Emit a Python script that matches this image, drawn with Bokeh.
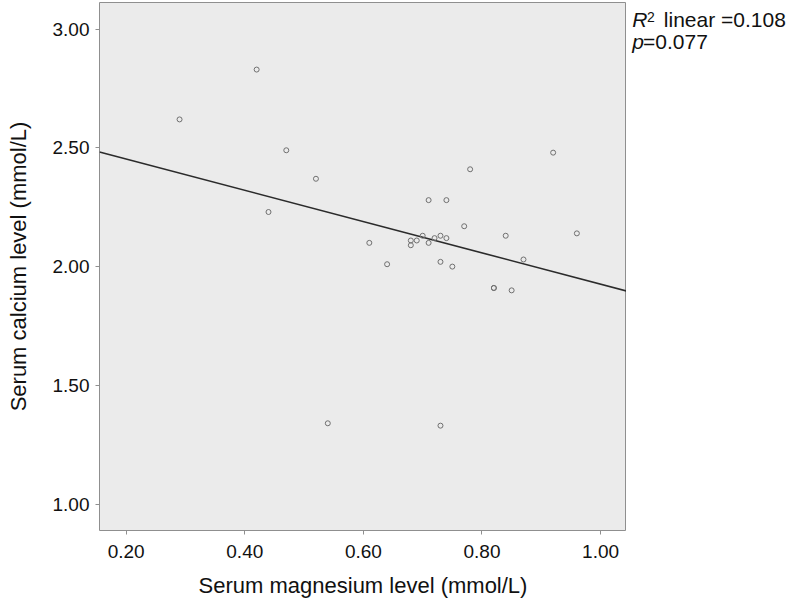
import numpy as np
from bokeh.plotting import figure
from bokeh.layouts import row
from bokeh.models import Range1d, FixedTicker, PrintfTickFormatter
from bokeh.core.properties import value
from bokeh.embed import file_html
from bokeh.resources import INLINE

# Data
magnesium = [0.29, 0.42, 0.47, 0.52, 0.44, 0.61, 0.64, 0.92, 0.78, 0.71,
             0.74, 0.77, 0.70, 0.68, 0.69, 0.68, 0.71, 0.72, 0.73, 0.74,
             0.84, 0.96, 0.73, 0.75, 0.87, 0.82, 0.82, 0.85, 0.54, 0.73]
calcium = [2.62, 2.83, 2.49, 2.37, 2.23, 2.10, 2.01, 2.48, 2.41, 2.28,
           2.28, 2.17, 2.13, 2.11, 2.11, 2.09, 2.10, 2.12, 2.13, 2.12,
           2.13, 2.14, 2.02, 2.00, 2.03, 1.91, 1.91, 1.90, 1.34, 1.33]
fit_intercept = 2.585
fit_slope = -0.659
x_ticks = [0.20, 0.40, 0.60, 0.80, 1.00]
y_ticks = [1.00, 1.50, 2.00, 2.50, 3.00]
r2_text = "0.108"
p_text = "0.077"

FONT = "Liberation Sans"
TXT = "#111111"
x_start, x_end = 0.155, 1.0437
y_start, y_end = 0.8884, 3.1125

p = figure(frame_width=527, frame_height=528,
           min_border_left=99, min_border_right=0,
           min_border_top=2, min_border_bottom=72,
           x_range=Range1d(x_start, x_end), y_range=Range1d(y_start, y_end),
           output_backend="svg", toolbar_location=None, tools="")

p.background_fill_color = "#ebebeb"
p.border_fill_color = "white"
p.outline_line_color = "#8f8f8f"
p.outline_line_width = 1
p.grid.visible = False

for ax in (p.xaxis[0], p.yaxis[0]):
    ax.axis_line_color = None
    ax.major_tick_in = 0
    ax.major_tick_out = 4
    ax.major_tick_line_color = "#8f8f8f"
    ax.minor_tick_line_color = None
    ax.major_label_text_font = FONT
    ax.major_label_text_font_size = "19px"
    ax.major_label_text_color = TXT
    ax.axis_label_text_font = FONT
    ax.axis_label_text_font_size = "22px"
    ax.axis_label_text_font_style = "normal"
    ax.axis_label_text_color = TXT
    ax.formatter = PrintfTickFormatter(format="%.2f")

p.xaxis.ticker = FixedTicker(ticks=x_ticks)
p.yaxis.ticker = FixedTicker(ticks=y_ticks)
p.xaxis.axis_label = "Serum magnesium level (mmol/L)"
p.yaxis.axis_label = "Serum calcium level (mmol/L)"
p.xaxis.major_label_standoff = 10
p.yaxis.major_label_standoff = 6
p.xaxis.axis_label_standoff = 12
p.yaxis.axis_label_standoff = 19

# regression line
lx = np.array([x_start, x_end])
ly = fit_intercept + fit_slope * lx
p.line(lx, ly, line_color="#2b2b2b", line_width=1.6)

# points
p.scatter(magnesium, calcium, marker="circle", size=5, fill_color=None,
          line_color="#707070", line_width=1)

# annotation panel to the right of the plot frame (pixel coordinates, y down)
q = figure(width=163, height=602, x_range=Range1d(0, 163), y_range=Range1d(602, 0),
           min_border=0, x_axis_type=None, y_axis_type=None,
           output_backend="svg", toolbar_location=None, tools="")
q.outline_line_color = None
q.grid.visible = False
q.background_fill_color = "white"
q.border_fill_color = "white"

q.text(x=[5.7], y=[19.3], text=["R"], text_font=value(FONT), text_font_size="21px",
       text_font_style="italic", text_color=TXT, text_baseline="alphabetic")
q.text(x=[20.5], y=[16.8], text=["2"], text_font=value(FONT), text_font_size="14px",
       text_color=TXT, text_baseline="alphabetic")
q.text(x=[37.3], y=[19.3], text=["linear =" + r2_text], text_font=value(FONT),
       text_font_size="21px", text_color=TXT, text_baseline="alphabetic")
q.text(x=[5.7], y=[44.3], text=["p"], text_font=value(FONT), text_font_size="21px",
       text_font_style="italic", text_color=TXT, text_baseline="alphabetic")
q.text(x=[16.5], y=[44.3], text=["=" + p_text], text_font=value(FONT),
       text_font_size="21px", text_color=TXT, text_baseline="alphabetic")

layout = row(p, q, spacing=0)
open("out.html", "w").write(file_html(layout, INLINE))
